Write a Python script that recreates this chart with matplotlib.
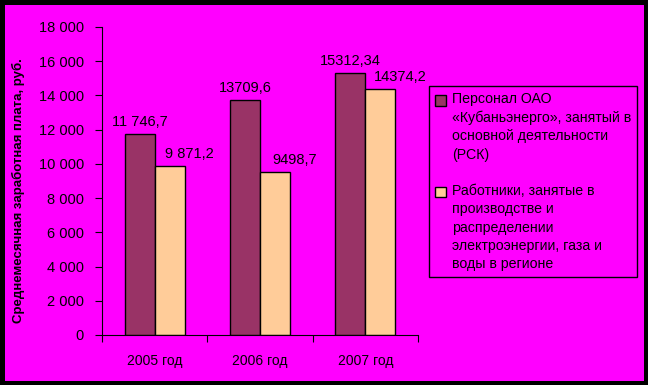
import numpy as np
import matplotlib.pyplot as plt
from matplotlib.patches import Rectangle
from matplotlib.ticker import FuncFormatter
from matplotlib.legend_handler import HandlerPatch
from matplotlib.container import BarContainer

plt.rcParams['font.family'] = ['Liberation Sans', 'DejaVu Sans']

# Data
years = ['2005 год', '2006 год', '2007 год']
kuban = [11746.7, 13709.6, 15312.34]
region = [9871.2, 9498.7, 14374.2]
kuban_labels = ['11 746,7', '13709,6', '15312,34']
region_labels = ['9 871,2', '9498,7', '14374,2']
names = ['Персонал ОАО\n«Кубаньэнерго», занятый в\nосновной деятельности\n(РСК)',
         'Работники, занятые в\nпроизводстве и\nраспределении\nэлектроэнергии, газа и\nводы в регионе']

W, H = 648, 385
fig = plt.figure(figsize=(W / 100, H / 100), dpi=100, facecolor='black')
# magenta panel inside black frame
fig.patches.append(Rectangle((5 / W, 1 - 381 / H), 639 / W, 376 / H,
                             transform=fig.transFigure, facecolor='#FF00FF',
                             edgecolor='none', zorder=-10))

ax = fig.add_axes([102 / W, 1 - 335 / H, 316 / W, 308 / H])
ax.set_facecolor('none')

x = np.arange(len(years))
w = 0.286
b1 = ax.bar(x - w / 2, kuban, w, color='#993366', edgecolor='black', linewidth=1, label=names[0])
b2 = ax.bar(x + w / 2, region, w, color='#FFCC99', edgecolor='black', linewidth=1, label=names[1])

for rect, lab in zip(b1, kuban_labels):
    ax.annotate(lab, (rect.get_x() + rect.get_width() / 2, rect.get_height()),
                xytext=(0, 5), textcoords='offset pixels', ha='center', va='bottom', fontsize=10.5)
for rect, lab in zip(b2, region_labels):
    ax.annotate(lab, (rect.get_x() + rect.get_width() / 2, rect.get_height()),
                xytext=(20, 5), textcoords='offset pixels', ha='center', va='bottom', fontsize=10.5)

ax.set_xlim(-0.5, 2.5)
ax.set_ylim(0, 18000)
ax.set_yticks(np.arange(0, 18001, 2000))
ax.yaxis.set_major_formatter(FuncFormatter(lambda v, p: f'{int(v):,}'.replace(',', ' ')))
ax.set_xticks([-0.5, 0.5, 1.5, 2.5])
ax.set_xticklabels([])
ax.set_xticks(x, minor=True)
ax.set_xticklabels(years, minor=True, fontsize=10)
ax.tick_params(axis='x', which='minor', length=0, pad=14)
ax.tick_params(axis='x', which='major', length=5, direction='out')
ax.tick_params(axis='y', length=5, direction='out', labelsize=10.5, pad=8)
for s in ['top', 'right']:
    ax.spines[s].set_visible(False)

fig.text(18 / W, 1 - 191 / H, 'Среднемесячная заработная плата, руб.', rotation=90,
         ha='center', va='center', fontsize=9.5, fontweight='bold')

# legend markers sit beside the first line of each entry
LEG_FS = 10.2
LINE_PT = 13.0


def top_patch(legend, orig_handle, xdescent, ydescent, width, height, fontsize):
    n = orig_handle.get_label().count('\n')
    return Rectangle((-xdescent, -ydescent + n * LINE_PT / 2), width, height)


def first_child(legend_handle, orig_handle):
    legend_handle.update_from(orig_handle.patches[0])


leg = fig.legend(loc='upper left', bbox_to_anchor=(429 / W, 1 - 86 / H),
                 handler_map={BarContainer: HandlerPatch(patch_func=top_patch, update_func=first_child)},
                 frameon=True, fancybox=False, borderaxespad=0,
                 edgecolor='black', facecolor='#FF00FF', fontsize=LEG_FS, labelspacing=1.6,
                 handlelength=0.75, handleheight=0.75, handletextpad=0.4, borderpad=0.45)
leg.get_frame().set_linewidth(1)
leg.get_frame().set_alpha(None)
for t in leg.get_texts():
    t.set_linespacing(1.38)

fig.savefig('out.png', dpi=100, facecolor='black')
